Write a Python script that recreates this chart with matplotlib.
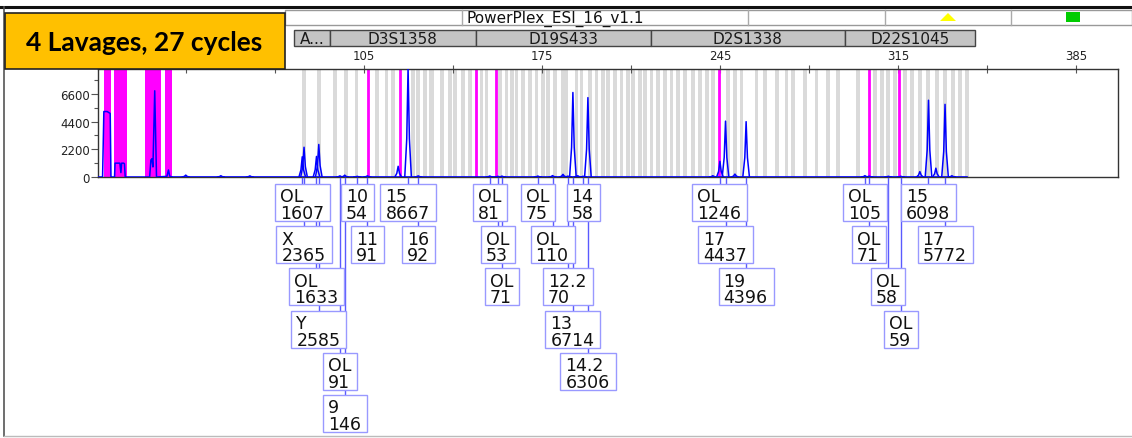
import matplotlib
matplotlib.use("Agg")
import matplotlib.pyplot as plt
from matplotlib.patches import Rectangle, Polygon

# ---- values ----
TITLE = "4 Lavages, 27 cycles"
PANEL = "PowerPlex_ESI_16_v1.1"

LOCI = ["A...", "D3S1358", "D19S433", "D2S1338", "D22S1045"]
LOCUS_EDGES = [77.5, 91.6, 149.0, 217.9, 294.1, 345.3]   # bp

XTICKS = [35, 105, 175, 245, 315, 385]
XTICK_LABELS = ["", "105", "175", "245", "315", "385"]   # 35 sits under the title box
XMINOR = [70, 140, 210, 280, 350]
YTICKS = [0, 2200, 4400, 6600]
YMINOR = [1100, 3300, 5500, 7700]

# allele bins (grey) in bp
BINS = [81.4, 87.4, 93.6, 97.9, 102.1, 110.2, 113.9, 116.5, 124.4, 126.4, 129.0,
        135.6, 138.8, 140.8, 144.0, 146.7, 151.3, 153.2, 158.5, 161.1, 163.1, 165.0,
        167.6, 170.3, 172.9, 175.5, 177.5, 180.1, 188.6, 190.6, 193.9, 196.5, 199.1,
        201.1, 203.7, 206.3, 208.9, 210.9, 213.5, 215.5, 218.1, 220.7, 223.4, 226.0,
        228.6, 231.2, 234.5, 237.1, 239.8, 242.4, 248.3, 250.9, 253.5, 262.7, 267.3,
        271.2, 278.4, 283.0, 287.6, 291.5, 299.4, 305.9, 308.6, 311.2, 313.8, 317.7,
        320.4, 323.6, 326.9, 330.2, 333.5, 336.7, 339.4, 342.0]
WIDE_BINS = [(130.6, 132.6), (182.7, 185.3), (258.6, 259.8), (273.0, 274.7)]

# filtered regions (magenta)
MAGENTA_BANDS = [(2.8, 5.5), (6.7, 11.8), (18.9, 25.2), (26.7, 29.5)]
MAGENTA_LINES = [106.7, 119.2, 149.0, 156.9, 244.7, 303.7, 315.5]

# primer-dye region of the trace
PRIMER_BP = [0.5, 2.3, 2.8, 4.1, 4.9, 5.3, 5.6, 7.0, 7.2, 9.1, 9.5, 9.8, 10.6, 10.9,
             11.2, 20.8, 21.3, 21.7, 22.1, 22.8, 23.5, 27.6, 28.2, 28.7, 29.6]
PRIMER_RFU = [0, 0, 5200, 5200, 5100, 5050, 0, 0, 1100, 1100, 350, 1100, 1100, 1050,
              0, 0, 1350, 1450, 800, 6850, 0, 50, 560, 60, 0]

# peaks (bp, RFU)
PEAK_BP = [35.0, 48.8, 60.2, 80.8, 81.5, 86.4, 87.3, 95.6, 97.5, 102.4, 106.4, 118.5,
           122.4, 126.4, 154.5, 157.7, 159.3, 173.4, 179.2, 183.3, 185.2, 187.2, 189.1,
           191.2, 193.1, 242.2, 245.0, 247.2, 250.9, 255.3, 302.0, 303.7, 311.2, 316.1,
           323.6, 327.0, 329.9, 333.5, 336.2]
PEAK_RFU = [150, 100, 90, 1607, 2365, 1633, 2585, 91, 146, 54, 91, 850,
            8667, 92, 81, 53, 71, 75, 110, 210, 70, 6714, 100,
            58, 6306, 100, 1246, 4437, 230, 4396, 105, 71, 58, 59,
            430, 6098, 700, 5772, 100]

# allele call labels
LABEL_ALLELE = ["OL", "X", "OL", "Y", "OL", "9", "10", "11", "15", "16",
                "OL", "OL", "OL", "OL", "OL", "14", "12.2", "13", "14.2",
                "OL", "17", "19", "OL", "OL", "OL", "OL", "15", "17"]
LABEL_RFU = [1607, 2365, 1633, 2585, 91, 146, 54, 91, 8667, 92,
             81, 53, 71, 75, 110, 58, 70, 6714, 6306,
             1246, 4437, 4396, 105, 71, 58, 59, 6098, 5772]
LABEL_BP = [80.8, 81.5, 86.4, 87.3, 95.6, 97.5, 102.4, 106.4, 122.4, 126.4,
            154.5, 157.7, 159.3, 173.4, 179.2, 191.2, 185.2, 187.2, 193.1,
            245.0, 247.2, 255.3, 302.0, 303.7, 311.2, 316.1, 327.0, 333.5]
# stacking row of each label box (layout)
LABEL_ROW = [0, 1, 2, 3, 4, 5, 0, 1, 0, 1,
             0, 1, 2, 0, 1, 0, 2, 3, 4,
             0, 1, 2, 0, 1, 2, 3, 0, 1]

W, H = 1132, 439
BLUE = "#0000ff"
MAGENTA = "#ff00ff"

fig = plt.figure(figsize=(W / 100, H / 100), dpi=100)
fig.patch.set_facecolor("white")

# ---- electropherogram panel ----
ax = fig.add_axes([98 / W, 1 - 178 / H, 1020 / W, 108 / H])
ax.set_xlim(0.5, 401.5)
ax.set_ylim(0, 8580)

for b in BINS:
    ax.axvspan(b - 0.75, b + 0.75, color="#dadada", lw=0, zorder=1)
for a, b in WIDE_BINS:
    ax.axvspan(a, b, color="#dadada", lw=0, zorder=1)
for a, b in MAGENTA_BANDS:
    ax.axvspan(a, b, color=MAGENTA, lw=0, zorder=2)
for m in MAGENTA_LINES:
    ax.axvline(m, color=MAGENTA, lw=2, zorder=2)

ax.plot([PRIMER_BP[-1], max(BINS)], [0, 0], color=BLUE, lw=1.2, zorder=4)
ax.plot(PRIMER_BP, PRIMER_RFU, color=BLUE, lw=1.1, zorder=4)
hw = 1.3
for p, h in zip(PEAK_BP, PEAK_RFU):
    ax.plot([p - hw, p - hw * 0.4, p, p + hw * 0.4, p + hw],
            [0, h * 0.35, h, h * 0.35, 0], color=BLUE, lw=1.1, zorder=4)

ax.xaxis.tick_top()
ax.set_xticks(XTICKS)
ax.set_xticklabels(XTICK_LABELS)
ax.set_xticks(XMINOR, minor=True)
ax.tick_params(axis="x", which="both", direction="inout", length=6, width=0.8,
               color="#555555", labelsize=8.5, pad=2, labelcolor="#222222")
ax.set_yticks(YTICKS)
ax.set_yticks(YMINOR, minor=True)
ax.tick_params(axis="y", which="major", direction="out", length=5, width=0.8,
               color="#555555", labelsize=8.5, pad=1, labelcolor="#222222")
ax.tick_params(axis="y", which="minor", direction="out", length=3, width=0.8,
               color="#555555")
for s in ax.spines.values():
    s.set_color("#333333")
    s.set_linewidth(1)


def px(bp):
    return ax.transData.transform((bp, 0))[0]


# ---- overlay in pixel coordinates (header, title, allele boxes) ----
ov = fig.add_axes([0, 0, 1, 1])
ov.set_xlim(0, W)
ov.set_ylim(H, 0)
ov.axis("off")
ov.patch.set_alpha(0)

ov.plot([0, W], [8, 8], color="#111111", lw=2.2)
ov.plot([4, 4], [8, 437], color="#555555", lw=1.2)
ov.plot([4, W], [437, 437], color="#bbbbbb", lw=1)

# header row
ov.add_patch(Rectangle((285, 11), W - 285, 15, fc="white", ec="#999999", lw=1))
for xd in [462, 748, 885, 1011]:
    ov.plot([xd, xd], [11, 26], color="#aaaaaa", lw=1)
ov.text(466, 19, PANEL, fontsize=11, va="center", ha="left", color="#111111")
ov.add_patch(Polygon([(940, 22), (956, 22), (948, 14)], fc="#ffff00", ec="none"))
ov.add_patch(Rectangle((1066, 13), 14, 10, fc="#00cc00", ec="none"))

# locus row
for name, a, b in zip(LOCI, LOCUS_EDGES[:-1], LOCUS_EDGES[1:]):
    x0, x1 = px(a), px(b)
    ov.add_patch(Rectangle((x0, 31), x1 - x0, 16, fc="#c4c4c4", ec="#444444", lw=1))
    ov.text((x0 + x1) / 2, 39.5, name, fontsize=11, ha="center", va="center",
            color="#1a1a1a")

# title box
ov.add_patch(Rectangle((5, 14), 280, 56, fc="#ffc000", ec="#222222", lw=1.2, zorder=5))
ov.text(144, 43, TITLE, fontsize=19, fontweight="bold", family="Lato",
        ha="center", va="center", color="black", zorder=6)

# allele call boxes
renderer = fig.canvas.get_renderer()
ROW0, ROW_STEP, BOX_H = 185, 42.2, 37
for allele, rfu, bp, row in zip(LABEL_ALLELE, LABEL_RFU, LABEL_BP, LABEL_ROW):
    xc = px(bp)
    top = ROW0 + ROW_STEP * row
    t1 = ov.text(0, top + 17.5, allele, fontsize=12.5, color="#111111",
                 va="baseline", ha="left", zorder=7)
    t2 = ov.text(0, top + 34, str(rfu), fontsize=12.5, color="#111111",
                 va="baseline", ha="left", zorder=7)
    tw = max(t.get_window_extent(renderer).width for t in (t1, t2))
    bw = tw + 11
    x0 = xc - bw / 2
    t1.set_x(x0 + 5)
    t2.set_x(x0 + 5)
    ov.add_patch(Rectangle((x0, top), bw, BOX_H, fc="white", ec="#9999ff",
                           lw=1, zorder=6))
    ov.plot([xc, xc], [179, top], color="#5a5aff", lw=1, zorder=3)

fig.savefig("out.png", dpi=100)
